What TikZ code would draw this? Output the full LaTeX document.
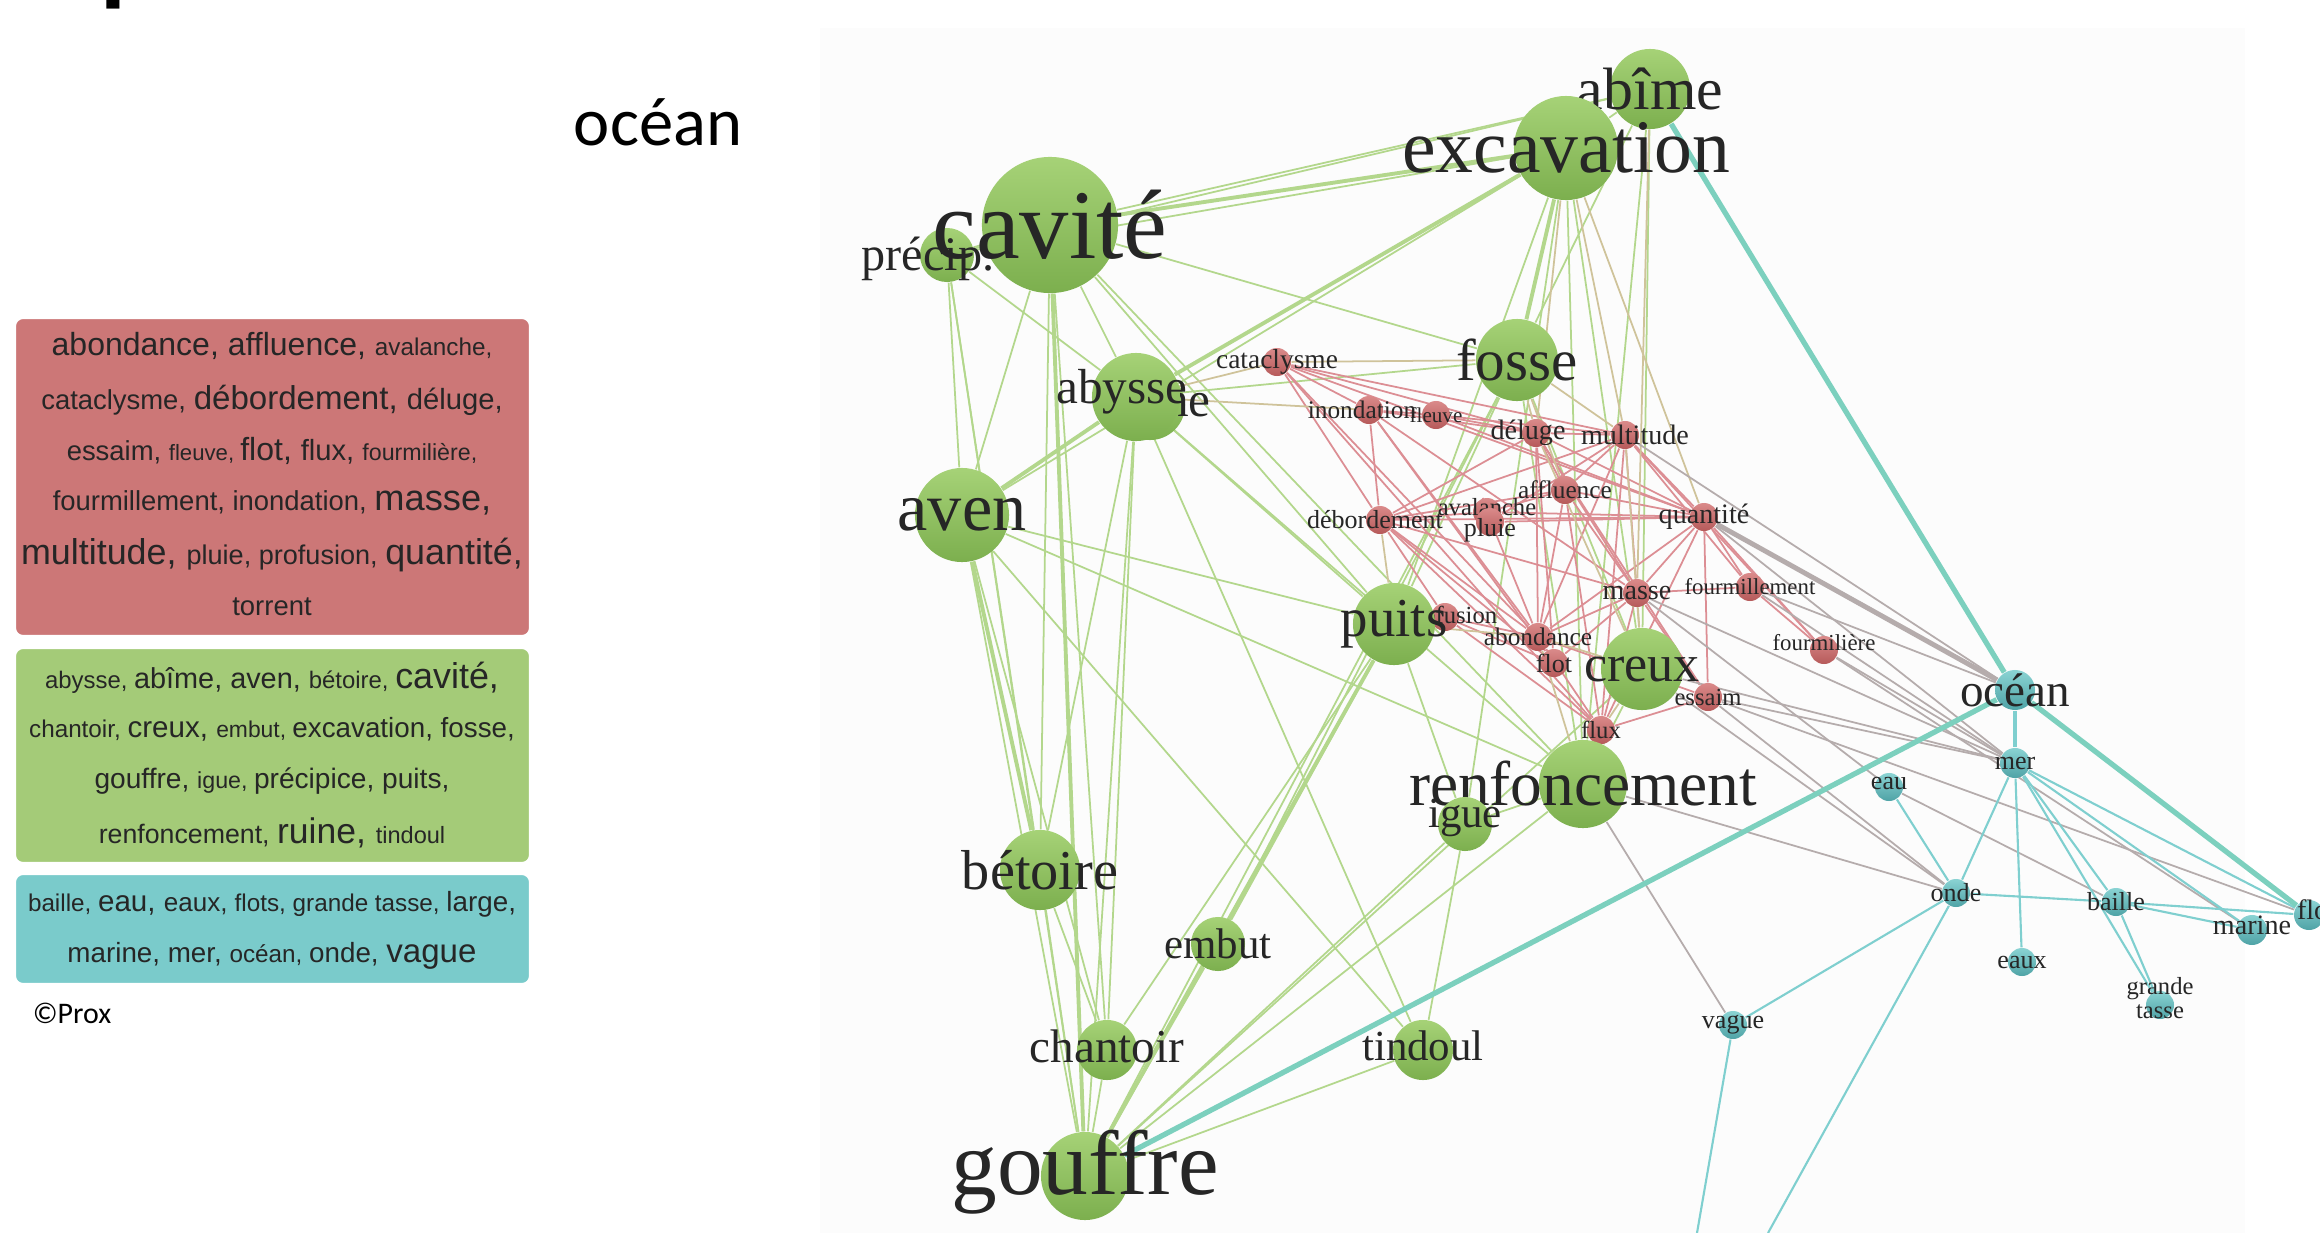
\documentclass[tikz,border=0pt]{standalone}
\usepackage{fontspec}
\setmainfont{Liberation Serif}
\setsansfont{Liberation Sans}
\newfontfamily\titlefont{Carlito}

\pgfdeclarelayer{back}
\pgfdeclarelayer{edges}
\pgfsetlayers{back,edges,main}

\definecolor{legred}{HTML}{CC7777}
\definecolor{leggreen}{HTML}{A4CB78}
\definecolor{legcyan}{HTML}{7ACBCB}
\definecolor{gtop}{HTML}{A6D277}
\definecolor{gbot}{HTML}{7CAF4E}
\definecolor{rtop}{HTML}{DA8A8A}
\definecolor{rbot}{HTML}{B65A5A}
\definecolor{ctop}{HTML}{8AD3D3}
\definecolor{cbot}{HTML}{4FA3A6}
\definecolor{gline}{HTML}{B3D78C}
\definecolor{rline}{HTML}{DC8E94}
\definecolor{cline}{HTML}{7FCFCF}
\definecolor{xline}{HTML}{B5ACAC}
\definecolor{oline}{HTML}{CFC39A}
\definecolor{tline}{HTML}{7CD0BE}

\newcommand{\wsize}[1]{\fontsize{#1}{#1}\selectfont}

\tikzset{
  gball/.style={circle, inner sep=0pt, minimum size=#1*0.02cm, top color=gtop, bottom color=gbot},
  rball/.style={circle, inner sep=0pt, minimum size=0.28cm, top color=rtop, bottom color=rbot},
  cball/.style={circle, inner sep=0pt, minimum size=#1*0.02cm, top color=ctop, bottom color=cbot},
  word/.style={inner sep=0pt, text=black!85, font=\wsize{#1}},
  legline/.style={inner sep=0pt, text=black!85, font=\sffamily},
  legbox/.style={rounded corners=0.08cm, draw=white, line width=0.6pt},
  gedge/.style={gline, line width=0.5pt},
  redge/.style={rline, line width=0.5pt},
  oedge/.style={oline, line width=0.5pt},
  xedge/.style={xline, line width=0.5pt},
  cedge/.style={cline, line width=0.6pt},
  tedge/.style={tline, line width=1.5pt}
}

\begin{document}
\begin{tikzpicture}[x=0.01cm, y=-0.01cm]
\useasboundingbox (0,0) rectangle (2320,1233);
\clip (0,0) rectangle (2320,1233);
\begin{pgfonlayer}{back}
\fill[gray!2] (820,28) rectangle (2245,1233);
\end{pgfonlayer}

% cut title letter and heading
\node[anchor=base west, inner sep=0pt, font=\titlefont\bfseries\wsize{30}] (cut) at (100,-8) {p};
\node[inner sep=0pt, font=\titlefont\wsize{19.5}] (head) at (658,122) {océan};

% legend
\fill[legbox, fill=legred] (15,318) rectangle (530,636);
\fill[legbox, fill=leggreen] (15,648) rectangle (530,863);
\fill[legbox, fill=legcyan] (15,874) rectangle (530,984);
\node[legline] (r1) at (272,346) {\wsize{9.1}abondance, affluence, \wsize{6.9}avalanche,};
\node[legline] (r2) at (272,400) {\wsize{7.8}cataclysme, \wsize{9.4}débordement, \wsize{8.3}déluge,};
\node[legline] (r3) at (272,451) {\wsize{7.8}essaim, \wsize{6.3}fleuve, \wsize{9.1}flot, \wsize{8.3}flux, \wsize{6.6}fourmilière,};
\node[legline] (r4) at (272,503) {\wsize{7.8}fourmillement, inondation, \wsize{10.3}masse,};
\node[legline] (r5) at (272,555) {\wsize{10.2}multitude, \wsize{7.7}pluie, profusion, \wsize{10.2}quantité,};
\node[legline] (r6) at (272,607) {\wsize{7.8}torrent};
\node[legline] (g1) at (272,678) {\wsize{6.8}abysse, \wsize{8.2}abîme, aven, \wsize{6.8}bétoire, \wsize{10.2}cavité,};
\node[legline] (g2) at (272,729) {\wsize{6.9}chantoir, \wsize{8.4}creux, \wsize{6.5}embut, \wsize{7.9}excavation, fosse,};
\node[legline] (g3) at (272,781) {\wsize{8}gouffre, \wsize{6.6}igue, \wsize{8}précipice, puits,};
\node[legline] (g4) at (272,833) {\wsize{7.6}renfoncement, \wsize{10.1}ruine, \wsize{6.7}tindoul};
\node[legline] (c1) at (272,904) {\wsize{6.9}baille, \wsize{8.4}eau, \wsize{7.4}eaux, \wsize{6.9}flots, grande tasse, \wsize{7.9}large,};
\node[legline] (c2) at (272,956) {\wsize{7.9}marine, mer, \wsize{6.9}océan, \wsize{7.9}onde, \wsize{9.4}vague};
\node[inner sep=0pt, font=\titlefont\wsize{8.5}] (copy) at (72,1013) {©Prox};

% red words
\node[rball, label={[word=7.8]center:cataclysme}] (cat) at (1277,362) {};
\node[rball, label={[word=7.2, xshift=-0.07cm]center:inondation}] (ino) at (1369,410) {};
\node[rball, label={[word=6]center:fleuve}] (fle) at (1436,415) {};
\node[rball, label={[word=8, xshift=-0.08cm]center:déluge}] (del) at (1536,433) {};
\node[rball, label={[word=8, xshift=0.1cm]center:multitude}] (mul) at (1625,435) {};
\node[rball, label={[word=7.2]center:affluence}] (aff) at (1565,490) {};
\node[rball, label={[word=7, yshift=0.05cm]center:avalanche}] (ava) at (1487,512) {};
\node[rball, label={[word=7.4, yshift=-0.08cm]center:pluie}] (plu) at (1490,522) {};
\node[rball, label={[word=7.4, xshift=-0.05cm]center:débordement}] (deb) at (1380,520) {};
\node[rball, label={[word=8]center:quantité}] (qua) at (1704,517) {};
\node[rball, label={[word=8]center:masse}] (mas) at (1637,593) {};
\node[rball, label={[word=6.5]center:fourmillement}] (fml) at (1750,587) {};
\node[rball, label={[word=6.5, yshift=0.07cm]center:fourmilière}] (fmr) at (1824,650) {};
\node[rball, label={[word=7, xshift=0.05cm]center:profusion}] (pro) at (1445,617) {};
\node[rball, label={[word=7.2]center:abondance}] (abo) at (1538,637) {};
\node[rball, label={[word=7.4]center:flot}] (flo) at (1554,663) {};
\node[rball, label={[word=7]center:essaim}] (ess) at (1708,697) {};
\node[rball, label={[word=7]center:flux}] (flx) at (1601,730) {};

% cyan words
\node[cball=20, label={[word=13.4]center:océan}] (oce) at (2015,690) {};
\node[cball=15, label={[word=7.4]center:mer}] (mer) at (2015,763) {};
\node[cball=14, label={[word=7.4, yshift=0.04cm]center:eau}] (eau) at (1889,787) {};
\node[cball=14, label={[word=7.4]center:onde}] (ond) at (1956,893) {};
\node[cball=14, label={[word=7.4]center:baille}] (bai) at (2116,902) {};
\node[cball=15, label={[word=8, yshift=0.05cm]center:marine}] (mar) at (2252,930) {};
\node[cball=15, label={[word=8, xshift=0.13cm, yshift=0.05cm]center:flots}] (fls) at (2309,915) {};
\node[cball=14, label={[word=7.4]center:eaux}] (eax) at (2022,962) {};
\node[cball=14, label={[word=7, align=center, yshift=0.07cm]center:grande\\tasse}] (gta) at (2160,1005) {};
\node[cball=14, label={[word=7.4]center:vague}] (vag) at (1733,1025) {};
\coordinate (offa) at (1697,1233);
\coordinate (offb) at (1768,1233);

% green words
\node[gball=35, label={[word=14, xshift=0.1cm, yshift=0.05cm]center:ruine}] (rui) at (1150,405) {};
\node[gball=27, label={[word=13.7, xshift=-0.19cm, yshift=-0.04cm]center:précip.}] (pre) at (947,255) {};
\node[gball=68, label={[word=28]center:cavité}] (cav) at (1050,225) {};
\node[gball=40, label={[word=17]center:abîme}] (abi) at (1650,89) {};
\node[gball=52, label={[word=21.5]center:excavation}] (exc) at (1566,148) {};
\node[gball=41, label={[word=16.8]center:fosse}] (fos) at (1517,360) {};
\node[gball=44, label={[word=14, xshift=-0.14cm, yshift=0.05cm]center:abysse}] (aby) at (1136,397) {};
\node[gball=47, label={[word=19.4]center:aven}] (ave) at (962,515) {};
\node[gball=41, label={[word=15.6]center:puits}] (pui) at (1394,624) {};
\node[gball=41, label={[word=14.8]center:creux}] (cre) at (1642,669) {};
\node[gball=44, label={[word=18]center:renfoncement}] (ren) at (1583,784) {};
\node[gball=27, label={[word=12.2, yshift=0.06cm]center:igue}] (igu) at (1465,824) {};
\node[gball=40, label={[word=16]center:bétoire}] (bet) at (1040,870) {};
\node[gball=27, label={[word=12.2]center:embut}] (emb) at (1218,944) {};
\node[gball=30, label={[word=13.4, yshift=0.04cm]center:chantoir}] (cha) at (1107,1050) {};
\node[gball=30, label={[word=12.2, yshift=0.04cm]center:tindoul}] (tin) at (1423,1050) {};
\node[gball=44, label={[word=26, yshift=0.04cm]center:gouffre}] (gou) at (1085,1176) {};

\begin{pgfonlayer}{edges}
\foreach \a/\b in {cav/pre, cav/aby, cav/ave, cav/bet, cav/cha, cav/gou, cav/fos, cav/pui, cav/ren, cav/abi,
  pre/ave, pre/bet, pre/gou, pre/aby, pre/abi, pre/exc,
  exc/ave, exc/pui, exc/cre, exc/ren, exc/igu, exc/abi, abi/fos, abi/cre, abi/ren,
  aby/fos, aby/pui, aby/ren, aby/tin, aby/gou, aby/bet, aby/cha,
  ave/gou, ave/cha, ave/pui, ave/ren, ave/tin, pui/emb, pui/cha, pui/igu,
  fos/pui, fos/cre, fos/ren, fos/gou, fos/emb, cre/ren, cre/gou, ren/gou, ren/igu,
  igu/gou, igu/tin, emb/gou, cha/gou, bet/gou, bet/cha, tin/gou}
  \draw[gedge] (\a) -- (\b);
\foreach \a/\b in {cav/exc, exc/aby, aby/ave, ave/bet, pui/gou, exc/fos, cav/gou}
  \draw[gedge, line width=1.1pt] (\a) -- (\b);
\foreach \a/\b in {cat/ino, cat/del, cat/deb, cat/qua, cat/mul, cat/abo, cat/flx,
  ino/fle, ino/deb, ino/del, ino/abo, ino/mas, ino/flo, fle/del, fle/mul, fle/qua,
  del/mul, del/aff, del/deb, del/abo, del/flo, del/mas, del/qua, del/ess,
  mul/aff, mul/qua, mul/mas, mul/abo, mul/deb, mul/fml, mul/fmr, mul/flx, mul/plu,
  aff/ava, aff/abo, aff/mas, aff/qua, aff/deb, aff/flx, ava/deb, ava/plu, ava/abo, ava/qua,
  deb/pro, deb/abo, deb/flo, deb/flx, deb/qua, deb/mas,
  qua/mas, qua/fml, qua/fmr, qua/abo, qua/ess, qua/flx, qua/plu,
  mas/abo, mas/fml, mas/ess, mas/flx, mas/flo, abo/flo, abo/pro, abo/flx, abo/ess,
  pro/flo, pro/flx, ess/flx, fml/fmr}
  \draw[redge] (\a) -- (\b);
\foreach \a/\b in {aby/cat, fos/cat, fos/del, fos/mul, fos/aff, exc/del, exc/mul, exc/qua,
  pui/pro, pui/deb, pui/abo, cre/abo, cre/mas, cre/del, cre/mul, cre/flx, ren/flx, ren/abo, aby/ino, abi/mas}
  \draw[oedge] (\a) -- (\b);
\foreach \a/\b in {fml/oce, fml/mer, fmr/mer, fmr/mar, ess/mer, ess/ond, cre/mer, cre/ond,
  mas/mer, ren/vag, ren/ond, qua/mer, mul/oce, ess/fls, eau/bai, mas/eau}
  \draw[xedge] (\a) -- (\b);
\draw[xline, line width=1.4pt] (qua) -- (oce);
\foreach \a/\b in {mer/ond, mer/bai, mer/eax, mer/mar, mer/fls, mer/gta, ond/eau, ond/bai,
  bai/mar, bai/fls, bai/gta, ond/vag, ond/offb, vag/offa}
  \draw[cedge] (\a) -- (\b);
\draw[cedge, line width=1.2pt] (oce) -- (mer);
\foreach \a/\b in {oce/fls, gou/oce, abi/oce}
  \draw[tedge] (\a) -- (\b);
\end{pgfonlayer}
\end{tikzpicture}
\end{document}
